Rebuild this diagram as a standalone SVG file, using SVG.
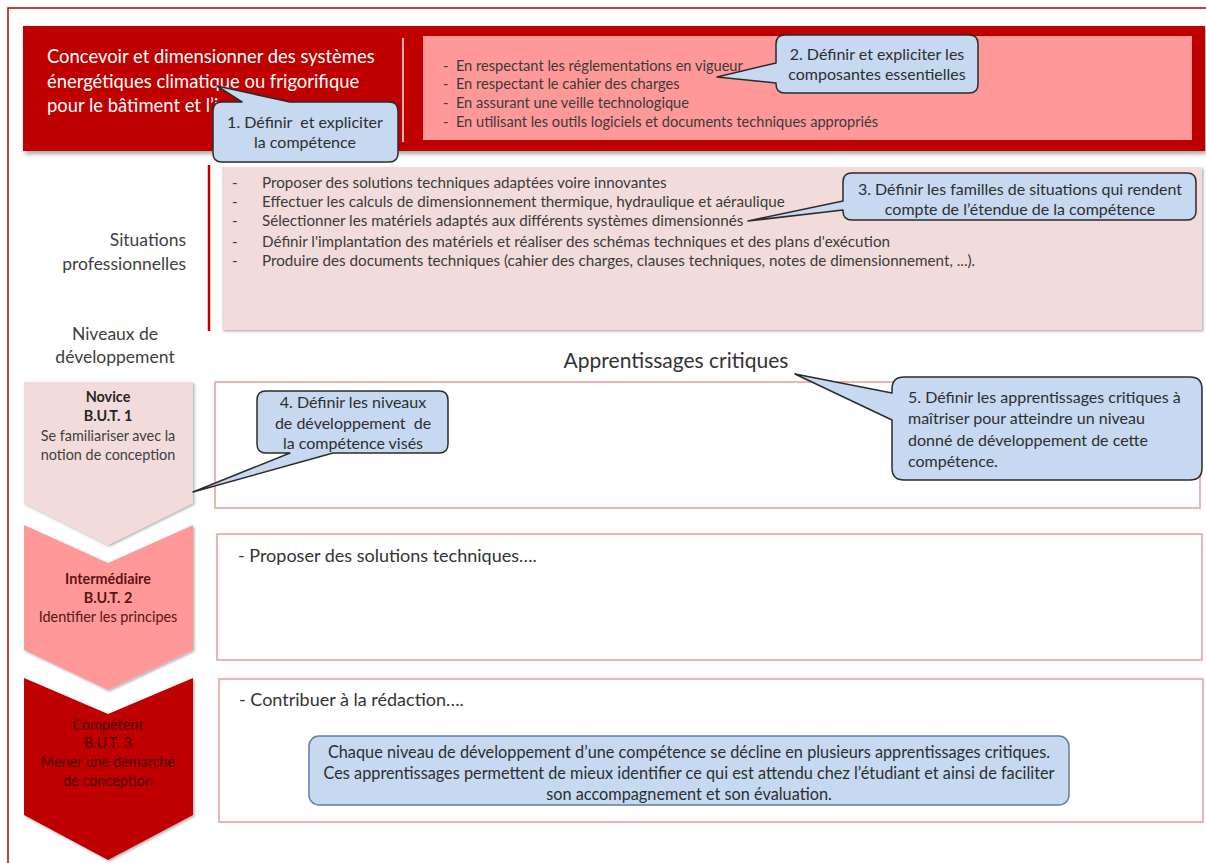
<svg xmlns="http://www.w3.org/2000/svg" width="1206" height="863" viewBox="0 0 1206 863">
<defs>
<filter id="sh" x="-5%" y="-5%" width="115%" height="120%">
<feDropShadow dx="2" dy="3" stdDeviation="2" flood-color="#000" flood-opacity="0.35"/>
</filter>
<filter id="shs" x="-5%" y="-5%" width="115%" height="120%">
<feDropShadow dx="1.5" dy="1.5" stdDeviation="1.2" flood-color="#000" flood-opacity="0.3"/>
</filter>
<style>
text{font-family:Lato,"Liberation Sans",sans-serif;fill:#333333}
.title{fill:#ffffff;font-size:18.4px}
.li{font-size:14.6px;fill:#3a3a3a}
.sit{font-size:15.2px;fill:#3a3a3a}
.lab{font-size:17.5px;fill:#404040}
.co{font-size:16px;fill:#2e2e2e}
.call{fill:#C6D9F0;stroke:#2b2b2b;stroke-width:1.5;stroke-linejoin:round}
.row{fill:#ffffff;stroke:#E79C9C;stroke-width:1.5}
.chv{font-size:14.4px;text-anchor:middle}
.b{font-weight:bold}
.mid{text-anchor:middle}
.end{text-anchor:end}
</style>
</defs>
<rect x="8" y="8" width="1210" height="870" fill="#ffffff" stroke="#C00000" stroke-width="1.5"/>

<g id="competence">
<rect x="23" y="26" width="1182" height="125" fill="#C00000" filter="url(#sh)"/>
<line x1="403" y1="38" x2="403" y2="142" stroke="#EDB0B0" stroke-width="2"/>
<text class="title" x="47" y="63">Concevoir et dimensionner des systèmes</text>
<text class="title" x="47" y="88">énergétiques climatique ou frigorifique</text>
<text class="title" x="47" y="112">pour le bâtiment et l’i</text>
</g>

<g id="composantes">
<rect x="423" y="36" width="769" height="104" fill="#FF9999"/>
<text class="li" x="443" y="71" xml:space="preserve">-  En respectant les réglementations en vigueur</text>
<text class="li" x="443" y="89" xml:space="preserve">-  En respectant le cahier des charges</text>
<text class="li" x="443" y="108" xml:space="preserve">-  En assurant une veille technologique</text>
<text class="li" x="443" y="127" xml:space="preserve">-  En utilisant les outils logiciels et documents techniques appropriés</text>
</g>

<g id="situations-label">
<text class="lab end" x="186" y="246">Situations</text>
<text class="lab end" x="186" y="270">professionnelles</text>
</g>

<g id="situations">
<line x1="209" y1="165" x2="209" y2="331" stroke="#C00000" stroke-width="2.5"/>
<rect x="222" y="167" width="980" height="163" fill="#F2DCDB" filter="url(#shs)"/>
<text class="sit" x="232" y="188">-</text><text class="sit" x="262" y="188">Proposer des solutions techniques adaptées voire innovantes</text>
<text class="sit" x="232" y="207">-</text><text class="sit" x="262" y="207">Effectuer les calculs de dimensionnement thermique, hydraulique et aéraulique</text>
<text class="sit" x="232" y="226">-</text><text class="sit" x="262" y="226">Sélectionner les matériels adaptés aux différents systèmes dimensionnés</text>
<text class="sit" x="232" y="247">-</text><text class="sit" x="262" y="247">Définir l'implantation des matériels et réaliser des schémas techniques et des plans d'exécution</text>
<text class="sit" x="232" y="266">-</text><text class="sit" x="262" y="266">Produire des documents techniques (cahier des charges, clauses techniques, notes de dimensionnement, ...).</text>
</g>

<g id="niveaux-label">
<text class="lab mid" x="115" y="340">Niveaux de</text>
<text class="lab mid" x="115" y="363">développement</text>
</g>

<g id="apprentissages-label">
<text class="mid" x="676" y="368" style="font-size:21px">Apprentissages critiques</text>
</g>

<g id="row-novice"><rect class="row" x="215" y="382" width="985" height="126"/></g>
<g id="row-intermediaire"><rect class="row" x="217" y="534" width="985" height="126"/>
<text x="238" y="562" style="font-size:18px">- Proposer des solutions techniques….</text></g>
<g id="row-competent"><rect class="row" x="219" y="679" width="984" height="143"/>
<text x="239" y="706" style="font-size:18px">- Contribuer à la rédaction….</text></g>

<g id="chevron-novice">
<polygon points="24,382 193,382 193,503 108,545 24,503" fill="#F2DCDB" filter="url(#shs)"/>
<text class="chv b" x="108" y="402" style="fill:#262626">Novice</text>
<text class="chv b" x="108" y="421" style="fill:#262626">B.U.T. 1</text>
<text class="chv" x="108" y="441" style="fill:#404040">Se familiariser avec la</text>
<text class="chv" x="108" y="460" style="fill:#404040">notion de conception</text>
</g>
<g id="chevron-intermediaire">
<polygon points="24,525 108,563 193,525 193,650 108,690 24,650" fill="#FF9999" filter="url(#shs)"/>
<text class="chv b" x="108" y="584" style="fill:#5a1414">Intermédiaire</text>
<text class="chv b" x="108" y="603" style="fill:#5a1414">B.U.T. 2</text>
<text class="chv" x="108" y="622" style="fill:#5a1414">Identifier les principes</text>
</g>
<g id="chevron-competent">
<polygon points="24,678 108,714 193,678 193,815 108,860 24,815" fill="#C00000" filter="url(#shs)"/>
<text class="chv" x="108" y="730" style="fill:#4a0000">Compétent</text>
<text class="chv" x="108" y="748" style="fill:#4a0000">B.U.T. 3</text>
<text class="chv" x="108" y="767" style="fill:#4a0000">Mener une démarche</text>
<text class="chv" x="108" y="786" style="fill:#4a0000">de conception</text>
</g>

<g id="connectors"></g>

<g id="callout-1">
<path class="call" d="M222,102 H242 L217,86 L290,102 H389 Q398,102 398,111 V153 Q398,162 389,162 H222 Q213,162 213,153 V111 Q213,102 222,102 Z"/>
<text class="co mid" x="305" y="128" xml:space="preserve">1. Définir  et expliciter</text>
<text class="co mid" x="305" y="148">la compétence</text>
</g>
<g id="callout-2">
<path class="call" d="M785,35 H969 Q978,35 978,44 V84 Q978,93 969,93 H785 Q776,93 776,84 V83 L717,77 L776,63 V44 Q776,35 785,35 Z"/>
<text class="co mid" x="877" y="60">2. Définir et expliciter les</text>
<text class="co mid" x="877" y="80">composantes essentielles</text>
</g>
<g id="callout-3">
<path class="call" d="M852,173 H1187 Q1196,173 1196,182 V211 Q1196,220 1187,220 H852 Q843,220 843,211 V210 L748,221 L843,201 V182 Q843,173 852,173 Z"/>
<text class="co mid" x="1020" y="195">3. Définir les familles de situations qui rendent</text>
<text class="co mid" x="1020" y="215">compte de l’étendue de la compétence</text>
</g>
<g id="callout-4">
<path class="call" d="M266,391 H439 Q448,391 448,400 V444 Q448,453 439,453 H333 L193,492 L290,453 H266 Q257,453 257,444 V400 Q257,391 266,391 Z"/>
<text class="co mid" x="353" y="408">4. Définir les niveaux</text>
<text class="co mid" x="353" y="429" xml:space="preserve">de développement  de</text>
<text class="co mid" x="353" y="449">la compétence visés</text>
</g>
<g id="callout-5">
<path class="call" d="M904,377 H1190 Q1202,377 1202,389 V468 Q1202,480 1190,480 H904 Q892,480 892,468 V420 L795,374 L892,393 V389 Q892,377 904,377 Z"/>
<text class="co" x="908" y="403">5. Définir les apprentissages critiques à</text>
<text class="co" x="908" y="424">maîtriser pour atteindre un niveau</text>
<text class="co" x="908" y="446">donné de développement de cette</text>
<text class="co" x="908" y="467">compétence.</text>
</g>
<g id="callout-note">
<rect x="309" y="736" width="760" height="69" rx="10" fill="#C6D9F0" stroke="#5F7EA8" stroke-width="1.5"/>
<text class="co mid" x="689" y="758" style="font-size:16.3px">Chaque niveau de développement d’une compétence se décline en plusieurs apprentissages critiques.</text>
<text class="co mid" x="689" y="779" style="font-size:16.3px">Ces apprentissages permettent de mieux identifier ce qui est attendu chez l’étudiant et ainsi de faciliter</text>
<text class="co mid" x="689" y="800" style="font-size:16.3px">son accompagnement et son évaluation.</text>
</g>
</svg>
